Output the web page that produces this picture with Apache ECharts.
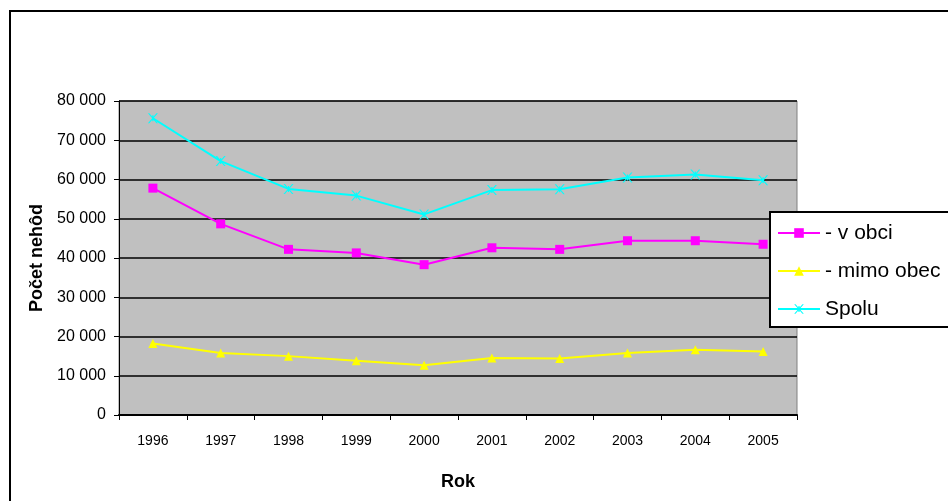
<!DOCTYPE html>
<html>
<head>
<meta charset="utf-8">
<script src="https://cdn.jsdelivr.net/npm/echarts@6/dist/echarts.min.js"></script>
<style>
  html, body { margin: 0; padding: 0; background: #fff; }
  #chart { width: 948px; height: 501px; }
</style>
</head>
<body>
<div id="chart"></div>
<script>
// Počet dopravných nehôd podľa roku
const years = ['1996', '1997', '1998', '1999', '2000', '2001', '2002', '2003', '2004', '2005'];
const vObci = [57800, 48700, 42200, 41300, 38300, 42600, 42200, 44400, 44400, 43500];
const mimoObec = [18200, 15800, 15000, 13800, 12700, 14500, 14400, 15800, 16600, 16200];
const spolu = [75600, 64700, 57600, 55900, 51100, 57300, 57500, 60500, 61300, 59800];
const seriesNames = ['- v obci', '- mimo obec', 'Spolu'];

const regular = "'Liberation Sans', Arial, sans-serif";

// X-shaped marker with a short vertical stroke through the middle
const starPath = 'path://M0 0 L1.4 0 L10 10 L8.6 10 Z M8.6 0 L10 0 L1.4 10 L0 10 Z M4.4 2 L5.6 2 L5.6 8 L4.4 8 Z';

function thousands(v) {
  return String(v).replace(/\B(?=(\d{3})+(?!\d))/g, ' ');
}

const chart = echarts.init(document.getElementById('chart'), null, { renderer: 'canvas' });

chart.setOption({
  animation: false,
  backgroundColor: '#ffffff',
  graphic: [{
    type: 'rect',
    shape: { x: 10, y: 11, width: 1000, height: 600 },
    style: { fill: 'none', stroke: '#000', lineWidth: 2 },
    z: -10
  }],
  grid: {
    left: 119, right: 151, top: 101, bottom: 86,
    show: true,
    backgroundColor: '#C0C0C0',
    borderColor: '#808080',
    borderWidth: 1
  },
  legend: {
    orient: 'vertical',
    left: 770,
    top: 212,
    padding: [10, 40, 7, 7],
    itemWidth: 42,
    itemHeight: 12,
    itemGap: 16,
    backgroundColor: '#ffffff',
    borderColor: '#000',
    borderWidth: 2,
    textStyle: { fontFamily: regular, fontSize: 21, color: '#000', lineHeight: 22, padding: [0, 0, 0, 0] },
    data: seriesNames
  },
  xAxis: {
    type: 'category',
    data: years,
    boundaryGap: true,
    name: 'Rok',
    nameLocation: 'middle',
    nameGap: 58,
    nameTextStyle: { fontFamily: regular, fontSize: 18, fontWeight: 'bold', color: '#000' },
    axisLine: { lineStyle: { color: '#000', width: 2 } },
    axisTick: { show: true, length: 5, lineStyle: { color: '#000' } },
    axisLabel: { fontFamily: regular, fontSize: 14, color: '#000', margin: 19 },
    splitLine: { show: false }
  },
  yAxis: {
    type: 'value',
    min: 0,
    max: 80000,
    interval: 10000,
    name: 'Počet nehôd',
    nameLocation: 'middle',
    nameGap: 73,
    nameTextStyle: { fontFamily: regular, fontSize: 18, fontWeight: 'bold', color: '#000' },
    axisLine: { show: true, lineStyle: { color: '#000', width: 1 } },
    axisTick: { show: true, length: 5, lineStyle: { color: '#000' } },
    axisLabel: { fontFamily: regular, fontSize: 16, color: '#000', margin: 13, formatter: thousands },
    splitLine: { show: true, lineStyle: { color: '#000', width: 1.5 } }
  },
  series: [
    {
      name: seriesNames[0],
      type: 'line',
      data: vObci,
      symbol: 'rect',
      symbolSize: 9,
      color: '#FF00FF',
      lineStyle: { color: '#FF00FF', width: 2 },
      itemStyle: { color: '#FF00FF' }
    },
    {
      name: seriesNames[1],
      type: 'line',
      data: mimoObec,
      symbol: 'triangle',
      symbolSize: 9,
      color: '#FFFF00',
      lineStyle: { color: '#FFFF00', width: 2 },
      itemStyle: { color: '#FFFF00' }
    },
    {
      name: seriesNames[2],
      type: 'line',
      data: spolu,
      symbol: starPath,
      symbolSize: 10,
      color: '#00FFFF',
      lineStyle: { color: '#00FFFF', width: 2 },
      itemStyle: { color: '#00FFFF' }
    }
  ]
});
</script>
</body>
</html>
